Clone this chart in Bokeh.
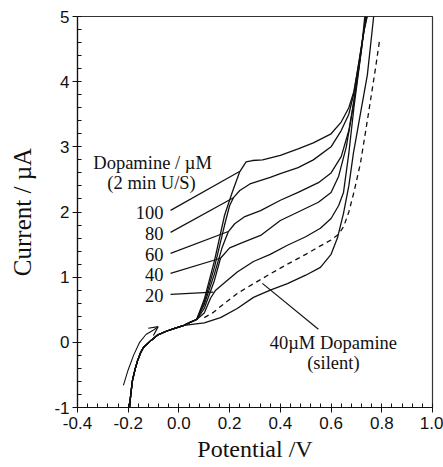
import numpy as np
from bokeh.plotting import figure
from bokeh.models import FixedTicker, NumeralTickFormatter, Arrow, OpenHead, Range1d
from bokeh.core.properties import value
from bokeh.embed import file_html
from bokeh.resources import INLINE

# ---- data (Potential / V, Current / uA) ----
base_v = [-0.195, -0.19, -0.183, -0.172, -0.163, -0.15, -0.14, -0.11, -0.085, -0.05, -0.02, 0.02, 0.046, 0.07]
base_i = [-1.0, -0.8, -0.58, -0.4, -0.28, -0.15, -0.08, 0.03, 0.11, 0.17, 0.21, 0.26, 0.31, 0.35]

c100_v = [0.1, 0.14, 0.18, 0.21, 0.24, 0.265, 0.29, 0.33, 0.4, 0.47, 0.53, 0.6, 0.64, 0.67, 0.69, 0.71, 0.73, 0.737]
c100_i = [0.66, 1.25, 1.95, 2.3, 2.62, 2.77, 2.79, 2.8, 2.87, 2.97, 3.06, 3.2, 3.38, 3.6, 3.85, 4.3, 4.8, 5.0]

c80_v = [0.1, 0.14, 0.18, 0.2, 0.215, 0.24, 0.28, 0.36, 0.4, 0.47, 0.53, 0.6, 0.64, 0.67, 0.69, 0.71, 0.73, 0.742]
c80_i = [0.62, 1.15, 1.8, 2.1, 2.22, 2.33, 2.43, 2.53, 2.59, 2.68, 2.8, 3.0, 3.25, 3.5, 3.82, 4.3, 4.78, 5.0]

c60_v = [0.1, 0.14, 0.17, 0.195, 0.22, 0.26, 0.322, 0.4, 0.47, 0.55, 0.6, 0.64, 0.67, 0.69, 0.71, 0.73, 0.738]
c60_i = [0.58, 1.05, 1.45, 1.7, 1.82, 1.93, 2.02, 2.18, 2.3, 2.45, 2.6, 2.85, 3.25, 3.7, 4.25, 4.8, 5.0]

c40_v = [0.1, 0.14, 0.164, 0.2, 0.25, 0.322, 0.4, 0.47, 0.55, 0.6, 0.63, 0.66, 0.68, 0.7, 0.72, 0.733]
c40_i = [0.52, 0.95, 1.29, 1.45, 1.53, 1.64, 1.87, 2.0, 2.15, 2.3, 2.55, 3.0, 3.45, 3.95, 4.5, 5.0]

c20_v = [0.1, 0.125, 0.145, 0.175, 0.23, 0.294, 0.36, 0.428, 0.5, 0.558, 0.6, 0.63, 0.649, 0.67, 0.69, 0.71, 0.73, 0.742]
c20_i = [0.45, 0.68, 0.8, 0.9, 1.08, 1.24, 1.35, 1.49, 1.62, 1.75, 1.9, 2.1, 2.3, 2.9, 3.6, 4.2, 4.8, 5.0]

c0_v = [0.1, 0.164, 0.23, 0.294, 0.36, 0.428, 0.5, 0.558, 0.6, 0.625, 0.649, 0.67, 0.688, 0.72, 0.743, 0.768]
c0_i = [0.3, 0.38, 0.52, 0.69, 0.8, 0.9, 1.03, 1.15, 1.35, 1.6, 1.98, 2.4, 2.9, 3.6, 4.1, 5.0]

silent_v = [0.1, 0.136, 0.164, 0.23, 0.294, 0.36, 0.428, 0.5, 0.558, 0.6, 0.63, 0.65, 0.67, 0.69, 0.716, 0.747, 0.775, 0.791]
silent_i = [0.38, 0.46, 0.55, 0.75, 0.9, 1.05, 1.2, 1.35, 1.48, 1.57, 1.66, 1.78, 2.0, 2.3, 2.75, 3.5, 4.2, 4.63]

arrow_v = [-0.219, -0.2, -0.179, -0.155, -0.13, -0.1]
arrow_i = [-0.66, -0.42, -0.2, 0.0, 0.12, 0.19]

conc_labels = ["100", "80", "60", "40", "20"]
label_y = [1.99, 1.67, 1.35, 1.04, 0.72]
ptr_start_y = [2.025, 1.687, 1.365, 1.058, 0.736]
ptr_end_v = [0.239, 0.215, 0.195, 0.164, 0.136]
ptr_end_i = [2.62, 2.22, 1.70, 1.29, 0.77]

x_major = [-0.4, -0.2, 0.0, 0.2, 0.4, 0.6, 0.8, 1.0]
y_major = [-1, 0, 1, 2, 3, 4, 5]

INK = "#111111"
SERIF = value("Liberation Serif")

p = figure(width=443, height=467, x_range=Range1d(-0.4, 1.0), y_range=Range1d(-1, 5),
           output_backend="svg", toolbar_location=None,
           min_border_left=77, min_border_right=11, min_border_top=16, min_border_bottom=60)
p.background_fill_color = "white"
p.border_fill_color = "white"
p.outline_line_color = "#333333"
p.outline_line_width = 1.2
p.xgrid.visible = False
p.ygrid.visible = False

x_minor = [round(v, 3) for v in np.arange(-0.4, 1.0001, 0.04)]
y_minor = [round(v, 3) for v in np.arange(-1, 5.0001, 0.2)]
p.xaxis.ticker = FixedTicker(ticks=x_major, minor_ticks=x_minor)
p.yaxis.ticker = FixedTicker(ticks=y_major, minor_ticks=y_minor)
p.xaxis.formatter = NumeralTickFormatter(format="0.0")
p.yaxis.formatter = NumeralTickFormatter(format="0")

for ax in (p.xaxis[0], p.yaxis[0]):
    ax.axis_line_color = INK
    ax.axis_line_width = 1.2
    ax.major_tick_line_color = INK
    ax.minor_tick_line_color = INK
    ax.major_tick_in = 0
    ax.major_tick_out = 5
    ax.minor_tick_in = 4
    ax.minor_tick_out = 0
    ax.major_label_text_font = "Liberation Sans"
    ax.major_label_text_font_size = "17px"
    ax.major_label_text_color = INK
    ax.axis_label_text_font = "Liberation Serif"
    ax.axis_label_text_font_style = "normal"
    ax.axis_label_text_color = INK

p.xaxis.axis_label = "Potential /V"
p.xaxis.axis_label_text_font_size = "24px"
p.xaxis.major_label_standoff = 4
p.xaxis.axis_label_standoff = 4
p.yaxis.axis_label = "Current / \u00b5A"
p.yaxis.axis_label_text_font_size = "25px"
p.yaxis.major_label_standoff = 3
p.yaxis.axis_label_standoff = 15

# curves
for cv, ci in [(c100_v, c100_i), (c80_v, c80_i), (c60_v, c60_i), (c40_v, c40_i), (c20_v, c20_i)]:
    p.line(base_v + cv, base_i + ci, line_color=INK, line_width=1.3)
p.line(base_v[:-2] + c0_v, base_i[:-2] + c0_i, line_color=INK, line_width=1.3)
p.line(silent_v, silent_i, line_color=INK, line_width=1.3, line_dash="5 4")

# scan-direction arrow
p.line(arrow_v, arrow_i, line_color=INK, line_width=1.1)
p.add_layout(Arrow(end=OpenHead(size=9, line_color=INK, line_width=1.2),
                   x_start=arrow_v[-1], y_start=arrow_i[-1], x_end=-0.082, y_end=0.24,
                   line_color=INK, line_width=1.1))

# concentration labels and pointers
p.text(x=[-0.061] * 5, y=label_y, text=conc_labels, text_font=SERIF, text_font_size="18.5px",
       text_align="right", text_baseline="middle", text_color=INK)
p.segment(x0=[-0.033] * 5, y0=ptr_start_y, x1=ptr_end_v, y1=ptr_end_i, line_color=INK, line_width=1.2)

p.text(x=[-0.104, -0.108], y=[2.745, 2.44], text=["Dopamine / \u00b5M", "(2 min U/S)"],
       text_font=SERIF, text_font_size="18.5px", text_align="center", text_baseline="middle",
       text_color=INK)

p.text(x=[0.609, 0.609], y=[-0.015, -0.32], text=["40\u00b5M Dopamine", "(silent)"],
       text_font=SERIF, text_font_size="18.5px", text_align="center", text_baseline="middle",
       text_color=INK)
p.segment(x0=[0.55], y0=[0.2], x1=[0.329], y1=[0.905], line_color=INK, line_width=1.2)

open("out.html", "w").write(file_html(p, INLINE))
